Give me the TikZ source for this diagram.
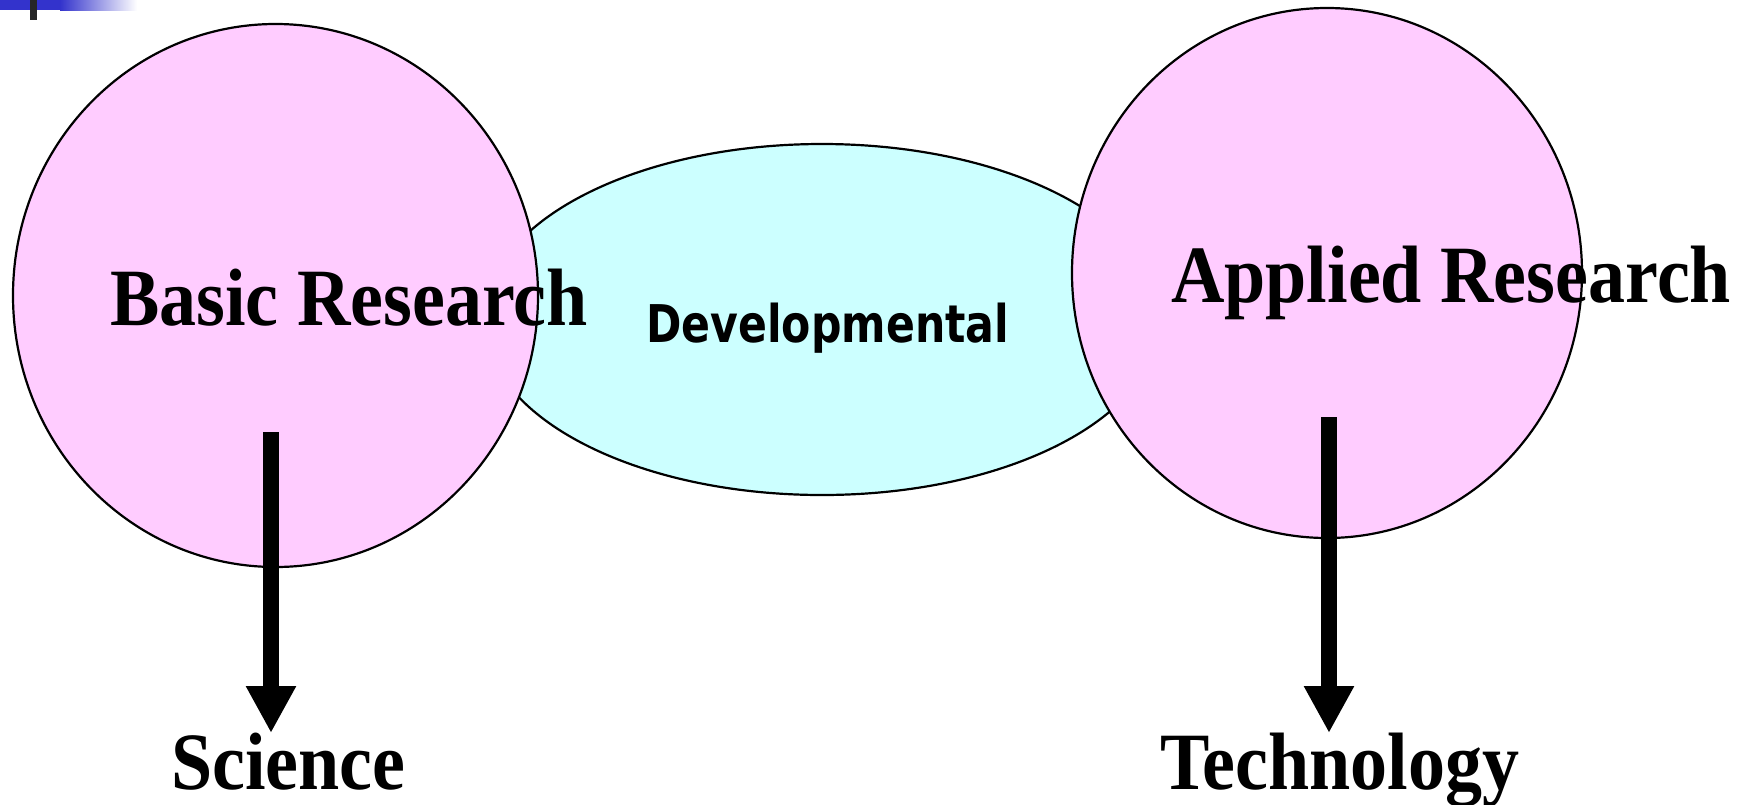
\documentclass[tikz,border=0pt]{standalone}
\usepackage{fontspec}
\setmainfont{Liberation Serif}
\newfontfamily\devfont{DejaVu Sans}
\usetikzlibrary{arrows.meta,shapes.geometric}
\definecolor{pinkfill}{HTML}{FFCCFF}
\definecolor{cyanfill}{HTML}{CCFFFF}
\definecolor{barblue}{HTML}{3333CC}
\tikzset{
  blob/.style={draw=black, line width=2.2pt},
  bigtext/.style={inner sep=0pt, anchor=base west, font=\bfseries\fontsize{74}{80}\selectfont},
  devtext/.style={inner sep=0pt, anchor=base west, font=\devfont\bfseries\fontsize{52}{56}\selectfont},
  fatarrow/.style={line width=16pt, -{Triangle[width=47pt,length=47pt]}, shorten >=0pt}
}
\begin{document}
\begin{tikzpicture}[x=1pt, y=-1pt]
\useasboundingbox (0,0) rectangle (1746,804);
% top-left decoration
\fill[barblue] (0,0) rectangle (60,10);
\shade[left color=barblue, right color=white] (60,0) rectangle (137,10);
\fill[black!85] (30,0) rectangle (37,20);
% shapes
\node[blob, fill=cyanfill, ellipse, minimum width=676pt, minimum height=351pt, inner sep=0pt] (dev) at (822,319.5) {};
\draw[blob, fill=pinkfill] (275.5,295.5) ellipse [x radius=262.5, y radius=271.5];
\coordinate (basic) at (275.5,295.5);
\draw[blob, fill=pinkfill] (1327,273) ellipse [x radius=255, y radius=265];
\coordinate (applied) at (1327,273);
% texts
\node[bigtext] (bt) at (110,325) {\scalebox{1}[1.1]{Basic Research}};
\node[bigtext] (at) at (1171,302) {\scalebox{1}[1.1]{Applied Research}};
\node[devtext] (dt) at (646,342) {\scalebox{0.82}[1]{Developmental}};
\node[bigtext] (sci) at (171,789) {\scalebox{1}[1.1]{Science}};
\node[bigtext] (tech) at (1160,789) {\scalebox{1}[1.1]{Technology}};
% arrows
\coordinate (a1s) at (271,432);
\coordinate (a1e) at (271,733);
\coordinate (a2s) at (1329,417);
\coordinate (a2e) at (1329,733);
\draw[fatarrow] (a1s) -- (a1e);
\draw[fatarrow] (a2s) -- (a2e);
\end{tikzpicture}
\end{document}
